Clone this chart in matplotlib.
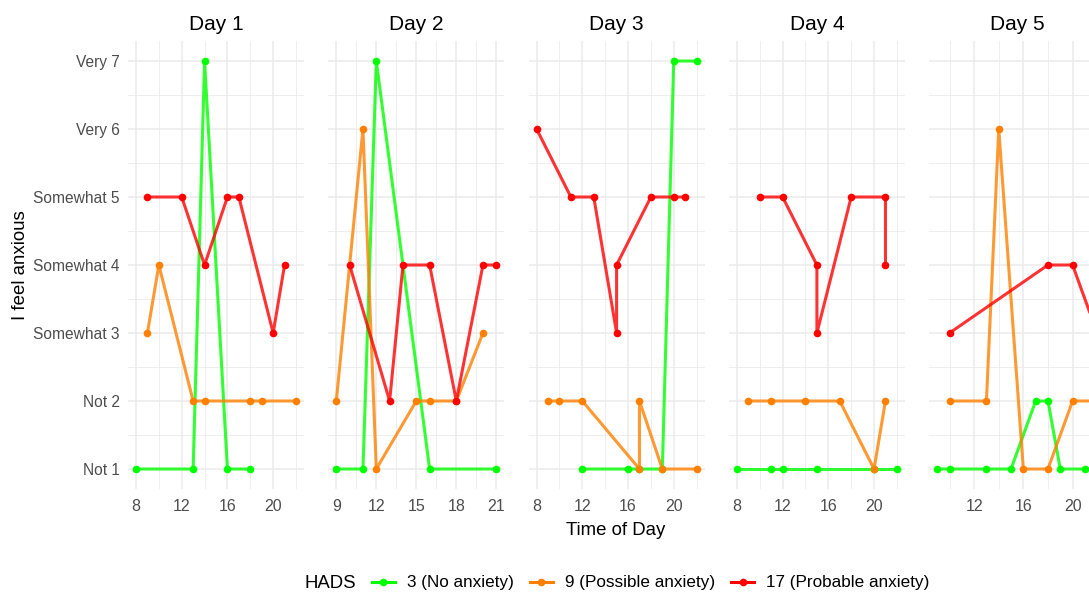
import matplotlib
matplotlib.use("Agg")
import matplotlib.pyplot as plt
from matplotlib.lines import Line2D

plt.rcParams['font.family'] = ['Liberation Sans', 'DejaVu Sans']

days = ["Day 1", "Day 2", "Day 3", "Day 4", "Day 5"]
y_labels = ["Not 1", "Not 2", "Somewhat 3", "Somewhat 4", "Somewhat 5", "Very 6", "Very 7"]
x_ticks = [[8, 12, 16, 20], [9, 12, 15, 18, 21], [8, 12, 16, 20], [8, 12, 16, 20], [12, 16, 20]]

groups = ["3 (No anxiety)", "9 (Possible anxiety)", "17 (Probable anxiety)"]
point_colors = ["#00FF00", "#FF8000", "#FF0000"]

# HADS 3 (No anxiety)
no_times = [[8, 13, 14, 16, 18],
            [9, 11, 12, 16, 21],
            [12, 16, 17, 19, 20, 22],
            [8, 11, 12, 15, 20, 22],
            [9, 10, 13, 15, 17, 18, 19, 21, 22]]
no_values = [[1, 1, 7, 1, 1],
             [1, 1, 7, 1, 1],
             [1, 1, 1, 1, 7, 7],
             [1, 1, 1, 1, 1, 1],
             [1, 1, 1, 1, 2, 2, 1, 1, 1]]

# HADS 9 (Possible anxiety)
possible_times = [[9, 10, 13, 14, 18, 19, 22],
                  [9, 11, 12, 15, 16, 18, 20],
                  [9, 10, 12, 17, 17, 19, 22],
                  [9, 11, 14, 17, 20, 21],
                  [10, 13, 14, 16, 18, 20, 22]]
possible_values = [[3, 4, 2, 2, 2, 2, 2],
                   [2, 6, 1, 2, 2, 2, 3],
                   [2, 2, 2, 1, 2, 1, 1],
                   [2, 2, 2, 2, 1, 2],
                   [2, 2, 6, 1, 1, 2, 2]]

# HADS 17 (Probable anxiety)
probable_times = [[9, 12, 14, 16, 17, 20, 21],
                  [10, 13, 14, 16, 18, 20, 21],
                  [8, 11, 13, 15, 15, 18, 20, 21],
                  [10, 12, 15, 15, 18, 21, 21],
                  [10, 18, 20, 22]]
probable_values = [[5, 5, 4, 5, 5, 3, 4],
                   [4, 2, 4, 4, 2, 4, 4],
                   [6, 5, 5, 3, 4, 5, 5, 5],
                   [5, 5, 4, 3, 5, 5, 4],
                   [3, 4, 4, 3]]

all_times = [no_times, possible_times, probable_times]
all_values = [no_values, possible_values, probable_values]

W, H = 1089, 594
fig = plt.figure(figsize=(W / 100, H / 100), dpi=100)

left0, step, pw = 128, 200.3, 176
top_px, bot_px = 40.6, 489.4

for d, day in enumerate(days):
    ax = fig.add_axes([(left0 + d * step) / W, (H - bot_px) / H, pw / W, (bot_px - top_px) / H])
    for s in ax.spines.values():
        s.set_visible(False)
    ax.set_axisbelow(True)

    # lines first, then points
    for g in range(3):
        ax.plot(all_times[g][d], all_values[g][d], color=point_colors[g], alpha=0.8,
                lw=2.2, solid_capstyle='butt', zorder=2)
    for g in range(3):
        ax.plot(all_times[g][d], all_values[g][d], 'o', color=point_colors[g], ms=5.5,
                mec='none', zorder=3)

    xs = [t for g in range(3) for t in all_times[g][d]]
    xmin, xmax = min(xs), max(xs)
    xr = xmax - xmin
    ax.set_xlim(xmin - 0.05 * xr, xmax + 0.05 * xr)
    ax.set_ylim(1 - 0.3, 7 + 0.3)

    ticks = x_ticks[d]
    ax.set_xticks(ticks)
    sp = ticks[1] - ticks[0]
    minors = [ticks[0] - sp / 2] + [t + sp / 2 for t in ticks]
    minors = [m for m in minors if ax.get_xlim()[0] <= m <= ax.get_xlim()[1]]
    ax.set_xticks(minors, minor=True)
    ax.set_yticks(range(1, 8))
    ax.set_yticks([1.5 + i for i in range(6)], minor=True)

    ax.grid(which='major', color='#EBEBEB', lw=1.1)
    ax.grid(which='minor', color='#EBEBEB', lw=0.6)
    ax.tick_params(which='both', length=0)
    ax.tick_params(axis='x', pad=7, labelsize=11.5, labelcolor='#4D4D4D')
    ax.tick_params(axis='y', pad=6, labelsize=11.2, labelcolor='#4D4D4D')
    if d == 0:
        ax.set_yticklabels(y_labels)
    else:
        ax.set_yticklabels([])
    ax.set_title(day, fontsize=15, pad=7.6, color='black')

fig.text(21 / W, (H - 265) / H, "I feel anxious", rotation=90, ha='center', va='center',
         fontsize=13.4, color='black')
fig.text(616 / W, (H - 535) / H, "Time of Day", ha='center', va='baseline',
         fontsize=13.4, color='black')

fig.text(305 / W, (H - 583) / H, "HADS", ha='left', va='center', fontsize=13.4)
handles = [Line2D([], [], color=c, lw=2.2, marker='o', ms=5.5, mec='none') for c in point_colors]
fig.legend(handles, groups, loc='center left', bbox_to_anchor=(371.5 / W, (H - 583) / H),
           ncol=3, frameon=False, fontsize=12.3, handlelength=1.35, handletextpad=0.7,
           columnspacing=0.95, borderpad=0, borderaxespad=0)

fig.savefig("out.png", dpi=100)
